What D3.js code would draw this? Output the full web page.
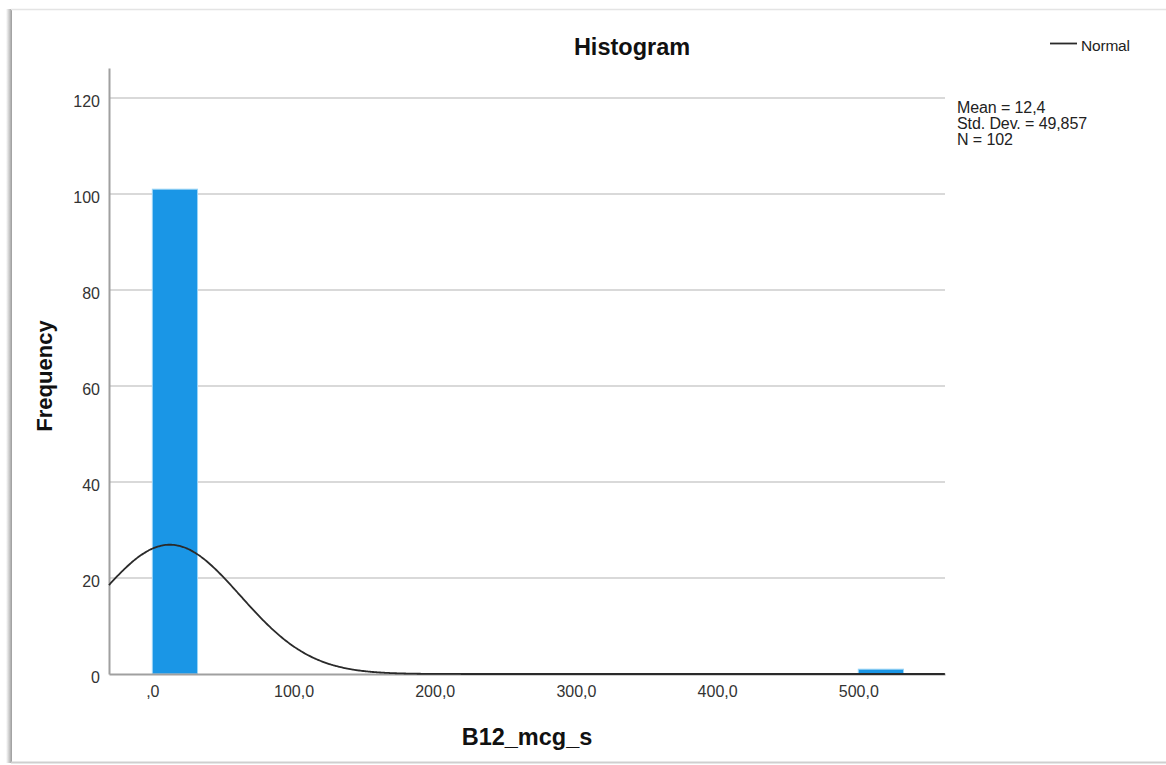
<!DOCTYPE html>
<html>
<head>
<meta charset="utf-8">
<script src="https://cdn.jsdelivr.net/npm/d3@7/dist/d3.min.js"></script>
<style>
  html, body { margin: 0; padding: 0; background: #ffffff; }
  svg { display: block; font-family: "Liberation Sans", Arial, sans-serif; }
</style>
</head>
<body>
<svg id="chart" width="1166" height="765"></svg>
<script>
// Histogram of B12_mcg_s with fitted normal curve
const binStart = [0, 500];
const binEnd = [32, 532];
const binCount = [101, 1];

const yTicks = [0, 20, 40, 60, 80, 100, 120];
const xTicks = [0, 100, 200, 300, 400, 500];

const statMean = 12.4;
const statSD = 49.857;
const statN = 102;
const statLines = ["Mean = 12,4", "Std. Dev. = 49,857", "N = 102"];
const curveBinWidth = 33;

const svg = d3.select("#chart");

// frame
const defs = svg.append("defs");
const grad = defs.append("linearGradient").attr("id", "shadeL").attr("x1", 0).attr("x2", 1);
grad.append("stop").attr("offset", "0%").attr("stop-color", "#ffffff");
grad.append("stop").attr("offset", "60%").attr("stop-color", "#c4c4c4");
grad.append("stop").attr("offset", "100%").attr("stop-color", "#9a9a9a");
svg.append("rect").attr("x", 6).attr("y", 9).attr("width", 6).attr("height", 754).attr("fill", "url(#shadeL)");
svg.append("line").attr("x1", 11).attr("x2", 1166).attr("y1", 9.5).attr("y2", 9.5)
  .attr("stroke", "#e4e4e4").attr("stroke-width", 1.5);
svg.append("line").attr("x1", 11).attr("x2", 1166).attr("y1", 762.5).attr("y2", 762.5)
  .attr("stroke", "#cfcfcf").attr("stroke-width", 2);

const plot = { left: 109, right: 945, top: 68, bottom: 674 };

const x = d3.scaleLinear().domain([-30.7, 561.4]).range([plot.left, plot.right]);
const y = d3.scaleLinear().domain([0, 126.25]).range([plot.bottom, plot.top]);

// gridlines
svg.append("g").selectAll("line").data(yTicks.filter(d => d > 0)).join("line")
  .attr("x1", plot.left).attr("x2", plot.right)
  .attr("y1", d => y(d)).attr("y2", d => y(d))
  .attr("stroke", "#cccccc").attr("stroke-width", 1.5);

// bars
svg.append("g").selectAll("rect").data(binCount).join("rect")
  .attr("x", (d, i) => x(binStart[i]))
  .attr("width", (d, i) => x(binEnd[i]) - x(binStart[i]))
  .attr("y", d => y(d))
  .attr("height", d => y(0) - y(d))
  .attr("fill", "#1a96e6")
  .attr("stroke", "#9ad4f6").attr("stroke-width", 1);

// axes
const fmt = v => v === 0 ? ",0" : d3.format(".1f")(v).replace(".", ",");
const xAxis = svg.append("g").attr("transform", `translate(0,${plot.bottom})`)
  .call(d3.axisBottom(x).tickValues(xTicks).tickSize(0).tickFormat(fmt).tickPadding(12));
xAxis.select(".domain").attr("stroke", "#a0a0a0").attr("stroke-width", 2);
xAxis.selectAll("text").attr("font-size", 16).attr("fill", "#333").attr("font-family", "Liberation Sans, Arial, sans-serif");

const yAxis = svg.append("g").attr("transform", `translate(${plot.left},0)`)
  .call(d3.axisLeft(y).tickValues(yTicks).tickSize(0).tickPadding(9));
yAxis.select(".domain").attr("stroke", "#a0a0a0").attr("stroke-width", 2);
yAxis.selectAll("text").attr("font-size", 16).attr("fill", "#333").attr("dy", "0.52em")
  .attr("font-family", "Liberation Sans, Arial, sans-serif");

// normal curve
const pdf = v => Math.exp(-0.5 * Math.pow((v - statMean) / statSD, 2)) / (statSD * Math.sqrt(2 * Math.PI));
const xs = d3.range(x.domain()[0], x.domain()[1] + 0.5, 1);
const line = d3.line().x(d => x(d)).y(d => y(statN * curveBinWidth * pdf(d))).curve(d3.curveBasis);
svg.append("path").datum(xs).attr("d", line)
  .attr("fill", "none").attr("stroke", "#2a2a2a").attr("stroke-width", 1.8);

// titles
svg.append("text").attr("x", 632).attr("y", 55).attr("text-anchor", "middle")
  .attr("font-size", 23.5).attr("font-weight", "bold").attr("fill", "#111").text("Histogram");
svg.append("text").attr("x", 527).attr("y", 745).attr("text-anchor", "middle")
  .attr("font-size", 23.5).attr("font-weight", "bold").attr("fill", "#111").text("B12_mcg_s");
svg.append("text").attr("transform", "translate(52,376) rotate(-90)").attr("text-anchor", "middle")
  .attr("font-size", 22).attr("font-weight", "bold").attr("fill", "#111").text("Frequency");

// legend
svg.append("line").attr("x1", 1050).attr("x2", 1077).attr("y1", 43.5).attr("y2", 43.5)
  .attr("stroke", "#2a2a2a").attr("stroke-width", 1.8);
svg.append("text").attr("x", 1081).attr("y", 51).attr("font-size", 15.5).attr("fill", "#222")
  .attr("letter-spacing", "-0.2").text("Normal");

// summary statistics
svg.append("g").selectAll("text").data(statLines).join("text")
  .attr("x", 957).attr("y", (d, i) => 113 + i * 16)
  .attr("font-size", 16).attr("fill", "#222").attr("letter-spacing", "-0.1")
  .text(d => d);
</script>
</body>
</html>
